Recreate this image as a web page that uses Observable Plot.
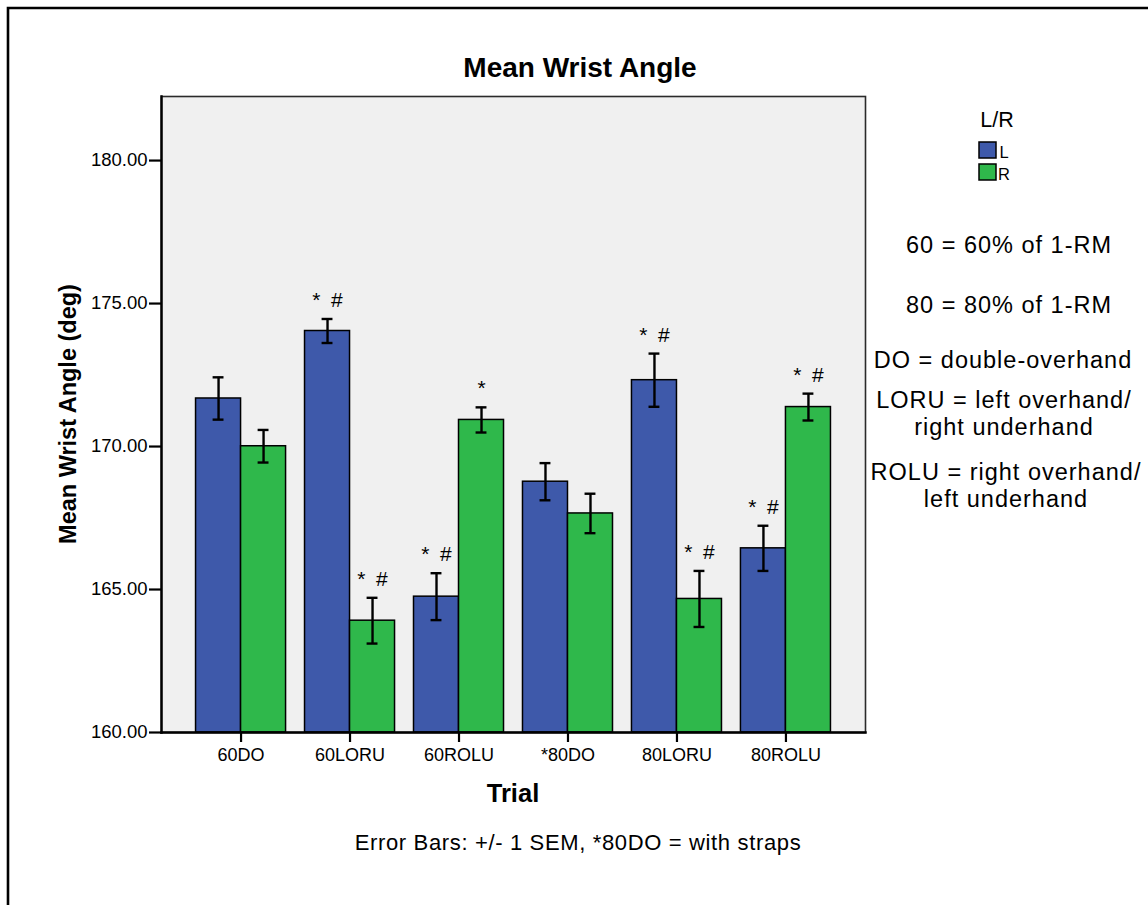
<!DOCTYPE html>
<html>
<head>
<meta charset="utf-8">
<script src="https://cdn.jsdelivr.net/npm/d3@7"></script>
<script src="https://cdn.jsdelivr.net/npm/@observablehq/plot@0.6"></script>
<style>
  html, body { margin: 0; padding: 0; background: #fff; }
  #chart { position: relative; width: 1148px; height: 905px; overflow: hidden; }
  #chart svg { display: block; }
</style>
</head>
<body>
<div id="chart"></div>
<script>
// Mean wrist angle per trial, left and right hand, with ±1 SEM
const trials = ["60DO", "60LORU", "60ROLU", "*80DO", "80LORU", "80ROLU"];
const sides = ["L", "R"];
const meanL = [171.68, 174.04, 164.75, 168.77, 172.32, 166.44];
const meanR = [170.01, 163.91, 170.93, 167.66, 164.67, 171.38];
const semL = [0.74, 0.42, 0.82, 0.65, 0.93, 0.79];
const semR = [0.57, 0.80, 0.44, 0.69, 0.98, 0.47];
const markL = ["", "*\u2002#", "*\u2002#", "", "*\u2002#", "*\u2002#"];
const markR = ["", "*\u2002#", "*", "", "*\u2002#", "*\u2002#"];
const yTicks = [160, 165, 170, 175, 180];
const yMax = 182.24;
const sideColors = ["#3e59aa", "#2fb84b"];
const notes = [
  ["60 = 60% of 1-RM"],
  ["80 = 80% of 1-RM"],
  ["DO = double-overhand"],
  ["LORU = left overhand/", "right underhand"],
  ["ROLU = right overhand/", "left underhand"]
];

const rows = trials.flatMap((t, i) => [
  {i, trial: t, side: "L", mean: meanL[i], sem: semL[i], mark: markL[i]},
  {i, trial: t, side: "R", mean: meanR[i], sem: semR[i], mark: markR[i]}
]);

// Layout of the grouped bars along an index axis (one unit per trial)
const barW = 0.413;   // width of one bar
const pad = 0.317;    // space between the outer bars and the frame
const capHalf = 0.05; // half width of the error-bar caps
const sideSign = s => (s === "L" ? -1 : 1);
const center = d => d.i + sideSign(d.side) * barW / 2;

const W = 1148, H = 905;
const M = {left: 161, right: 283, top: 96, bottom: 173};
const font = "'Liberation Sans', Arial, Helvetica, sans-serif";

const chart = Plot.plot({
  width: W,
  height: H,
  marginLeft: M.left,
  marginRight: M.right,
  marginTop: M.top,
  marginBottom: M.bottom,
  style: {fontFamily: font, color: "#000", background: "#fff", overflow: "visible"},
  x: {domain: [-(barW + pad), trials.length - 1 + barW + pad], label: null},
  y: {domain: [yTicks[0], yMax], label: null},
  color: {domain: sides, range: sideColors},
  marks: [
    Plot.frame({fill: "#f0f0f0", stroke: "#2a2a2a", strokeWidth: 1.6}),
    Plot.rectY(rows, {
      x1: d => Math.min(d.i, d.i + sideSign(d.side) * barW),
      x2: d => Math.max(d.i, d.i + sideSign(d.side) * barW),
      y1: () => yTicks[0], y2: "mean",
      fill: "side", stroke: "#000", strokeWidth: 1.5
    }),
    Plot.ruleX(rows, {
      x: center, y1: d => d.mean - d.sem, y2: d => d.mean + d.sem,
      stroke: "#000", strokeWidth: 2.4
    }),
    Plot.ruleY(rows, {
      y: d => d.mean + d.sem, x1: d => center(d) - capHalf, x2: d => center(d) + capHalf,
      stroke: "#000", strokeWidth: 2.4
    }),
    Plot.ruleY(rows, {
      y: d => d.mean - d.sem, x1: d => center(d) - capHalf, x2: d => center(d) + capHalf,
      stroke: "#000", strokeWidth: 2.4
    }),
    Plot.text(rows.filter(d => d.mark), {
      x: center, y: d => d.mean + d.sem, text: "mark",
      lineAnchor: "bottom", dy: -12, fontSize: 21, fill: "#000"
    }),
    Plot.frame({anchor: "left", stroke: "#000", strokeWidth: 2.4}),
    Plot.frame({anchor: "bottom", stroke: "#000", strokeWidth: 2.4}),
    Plot.axisY({
      ticks: yTicks, tickFormat: d3.format(".2f"),
      tickSize: 12, tickPadding: 2, fontSize: 18.5, strokeWidth: 2.2, label: null
    }),
    Plot.axisX({
      ticks: trials.map((_, i) => i), tickFormat: i => trials[i],
      tickSize: 10, tickPadding: 6, fontSize: 18, strokeWidth: 2.2, label: null
    })
  ]
});

document.getElementById("chart").appendChild(chart);

// Titles, outer frame, legend and notes drawn into the same SVG
const svg = d3.select(chart);
const cx = M.left + (W - M.left - M.right) / 2;

const deco = svg.append("g").attr("font-family", font).attr("fill", "#000");

deco.append("path")
  .attr("d", `M8,${H}V8H${W}`)
  .attr("fill", "none").attr("stroke", "#000").attr("stroke-width", 2.6);

deco.append("text")
  .attr("x", 580).attr("y", 77)
  .attr("text-anchor", "middle").attr("font-weight", "bold").attr("font-size", 28)
  .text("Mean Wrist Angle");

deco.append("text")
  .attr("transform", `translate(76,${M.top + (H - M.top - M.bottom) / 2}) rotate(-90)`)
  .attr("text-anchor", "middle").attr("font-weight", "bold").attr("font-size", 23.5)
  .text("Mean Wrist Angle (deg)");

deco.append("text")
  .attr("x", cx).attr("y", 802)
  .attr("text-anchor", "middle").attr("font-weight", "bold").attr("font-size", 25.5)
  .text("Trial");

deco.append("text")
  .attr("x", 578).attr("y", 850)
  .attr("text-anchor", "middle").attr("font-size", 22).attr("letter-spacing", 0.65)
  .text("Error Bars: +/- 1 SEM, *80DO = with straps");

// Legend
const legend = deco.append("g");
legend.append("text")
  .attr("x", 997).attr("y", 127)
  .attr("text-anchor", "middle").attr("font-size", 21.5)
  .text("L/R");
sides.forEach((s, i) => {
  legend.append("rect")
    .attr("x", 979).attr("y", 142 + i * 22)
    .attr("width", 17).attr("height", 16)
    .attr("fill", sideColors[i]).attr("stroke", "#000").attr("stroke-width", 1.5);
  legend.append("text")
    .attr("x", 1004).attr("y", 158 + i * 22)
    .attr("font-size", 16.5)
    .text(s);
});

// Abbreviation notes
const noteG = deco.append("g")
  .attr("text-anchor", "middle").attr("font-size", 23.5).attr("letter-spacing", 1);
const noteBase = [253, 313, 368, 408, 480];
const noteX = [1009, 1009, 1003, 1004, 1006];
notes.forEach((lines, i) => {
  lines.forEach((ln, j) => {
    noteG.append("text")
      .attr("x", noteX[i]).attr("y", noteBase[i] + j * 26.5)
      .text(ln);
  });
});
</script>
</body>
</html>
